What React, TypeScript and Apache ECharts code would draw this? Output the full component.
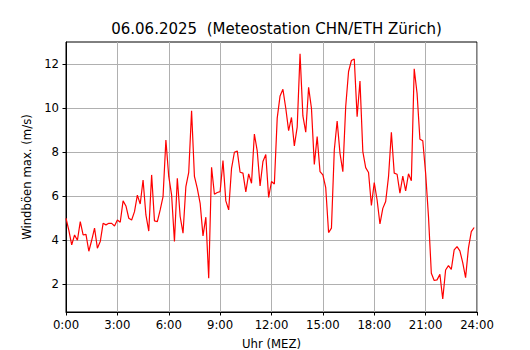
import React, { useEffect, useRef } from "react";
import * as echarts from "echarts";

// 10-minute maximum gust values (m/s), 00:00 .. 23:50
const gustValues: number[] = [
  5.0, 4.45, 3.79, 4.24, 4.0, 4.85, 4.24, 4.27, 3.5, 4.0,
  4.55, 3.64, 3.94, 4.77, 4.7, 4.77, 4.77, 4.65, 4.92, 4.82,
  5.79, 5.56, 5.0, 4.92, 5.3, 6.05, 5.65, 6.74, 5.15, 4.42,
  6.97, 4.88, 4.85, 5.38, 5.98, 8.56, 6.9, 6.06, 3.94, 6.82,
  5.08, 4.32, 6.44, 7.09, 9.88, 6.9, 6.36, 5.68, 4.2, 5.05,
  2.27, 7.32, 6.09, 6.17, 6.21, 7.62, 5.79, 5.38, 7.27, 8.0,
  8.06, 7.09, 7.05, 6.2, 7.02, 6.59, 8.83, 8.06, 6.47, 7.58,
  7.9, 5.95, 6.67, 6.56, 9.55, 10.56, 10.86, 10.0, 8.98, 9.58,
  8.29, 9.14, 12.47, 9.65, 8.91, 10.95, 10.0, 7.45, 8.71, 7.12,
  6.97, 6.39, 4.35, 4.55, 8.1, 9.42, 7.95, 7.12, 10.08, 11.67,
  12.17, 12.24, 9.62, 11.24, 8.03, 7.3, 7.08, 5.58, 6.62, 5.83,
  4.74, 5.45, 5.76, 6.89, 8.91, 7.05, 7.0, 6.14, 6.92, 6.24,
  7.02, 6.7, 11.79, 10.68, 8.59, 8.52, 7.05, 5.08, 2.5, 2.17,
  2.2, 2.45, 1.33, 2.65, 2.85, 2.68, 3.56, 3.71, 3.52, 2.98,
  2.3, 3.64, 4.39, 4.58,
];

const stepMinutes = 10;
const xTickHours: number[] = [0, 3, 6, 9, 12, 15, 18, 21, 24];
const yTickValues: number[] = [2, 4, 6, 8, 10, 12];
const yRange: number[] = [0.74, 13.01];

const titleText = "06.06.2025  (Meteostation CHN/ETH Zürich)";
const xAxisTitle = "Uhr (MEZ)";
const yAxisTitle = "Windböen max. (m/s)";

export default function App() {
  const ref = useRef<HTMLDivElement>(null);

  useEffect(() => {
    document.body.style.margin = "0";
    if (!ref.current) return;
    const chart = echarts.init(ref.current, null, { renderer: "svg" });
    const font = "DejaVu Sans";
    const points = gustValues.map((v, i) => [(i * stepMinutes) / 60, v]);
    chart.setOption({
      animation: false,
      backgroundColor: "#ffffff",
      textStyle: { fontFamily: font },
      title: {
        text: titleText,
        left: 271.5,
        top: 16,
        textAlign: "center",
        textStyle: { fontFamily: font, fontSize: 15, fontWeight: "normal", color: "#000" },
      },
      grid: {
        left: 66,
        right: 53,
        top: 42,
        bottom: 38,
        containLabel: false,
        outerBoundsMode: "none",
        show: true,
        borderColor: "#000",
        borderWidth: 1,
        backgroundColor: "transparent",
      },
      xAxis: {
        type: "value",
        min: xTickHours[0],
        max: xTickHours[xTickHours.length - 1],
        interval: 3,
        name: xAxisTitle,
        nameLocation: "middle",
        nameGap: 25.5,
        nameTextStyle: { fontFamily: font, fontSize: 11.7, color: "#000", lineHeight: 12 },
        axisLine: { show: true, lineStyle: { color: "#000", width: 1 } },
        axisTick: { show: true, length: 3.5, inside: false, lineStyle: { color: "#000" } },
        axisLabel: {
          margin: 7,
          fontFamily: font,
          fontSize: 11.7,
          color: "#000",
          formatter: (v: number) => `${v}:00`,
        },
        splitLine: { show: true, lineStyle: { color: "#b0b0b0", width: 1 } },
      },
      yAxis: {
        type: "value",
        min: yRange[0],
        max: yRange[1],
        name: yAxisTitle,
        nameLocation: "middle",
        nameGap: 30,
        nameRotate: 90,
        nameTextStyle: { fontFamily: font, fontSize: 11.7, color: "#000" },
        axisLine: { show: true, lineStyle: { color: "#000", width: 1 } },
        axisTick: {
          show: true,
          length: 3.5,
          inside: false,
          customValues: yTickValues,
          lineStyle: { color: "#000" },
        },
        axisLabel: {
          margin: 7,
          fontFamily: font,
          fontSize: 11.7,
          color: "#000",
          customValues: yTickValues,
        },
        splitLine: { show: true, lineStyle: { color: "#b0b0b0", width: 1 } },
      },
      series: [
        {
          type: "line",
          data: points,
          showSymbol: false,
          symbol: "none",
          lineStyle: { color: "#ff0000", width: 1.2 },
          clip: true,
        },
      ],
    });
    return () => chart.dispose();
  }, []);

  return <div ref={ref} style={{ width: 530, height: 350 }} />;
}
